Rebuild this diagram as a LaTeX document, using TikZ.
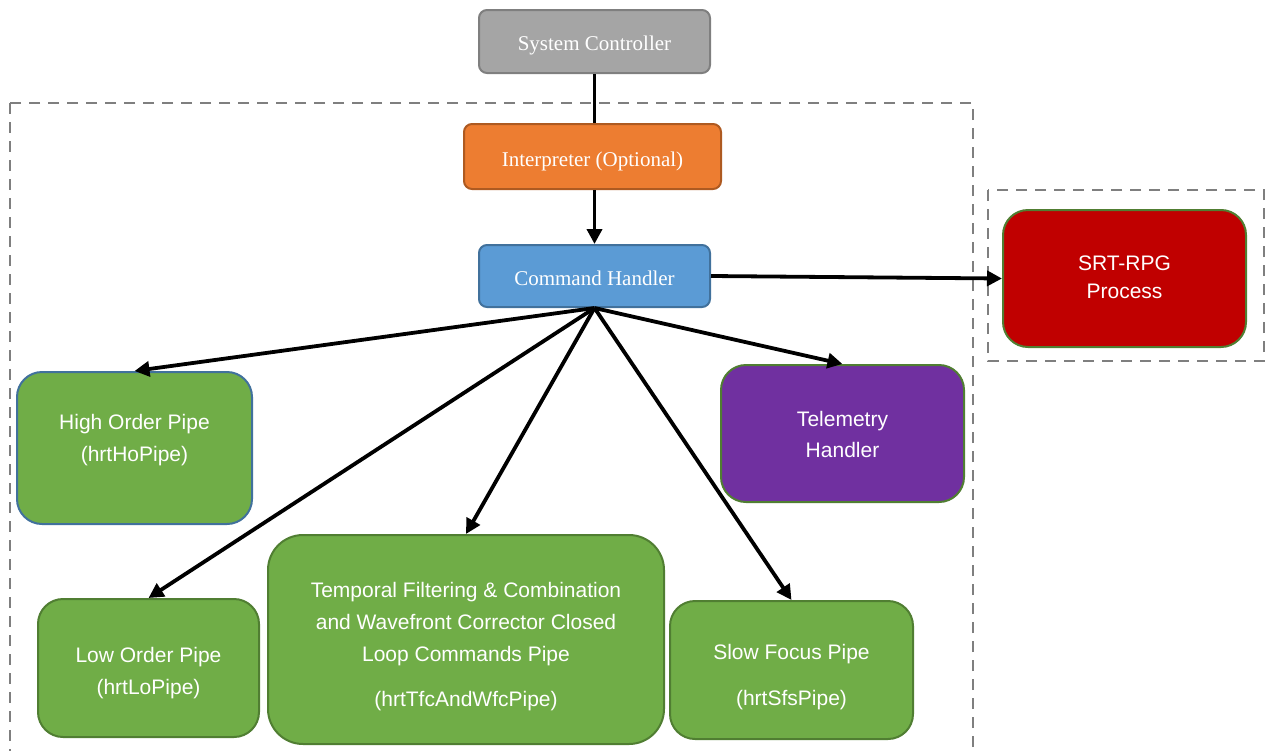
\documentclass[tikz,border=0pt]{standalone}
\usepackage{fontspec}
\setmainfont{Liberation Serif}
\newfontfamily\labelsans{Liberation Sans}
\usetikzlibrary{arrows.meta}

\definecolor{ctrlfill}{HTML}{A5A5A5}
\definecolor{ctrlline}{HTML}{7F7F7F}
\definecolor{orfill}{HTML}{ED7D31}
\definecolor{orline}{HTML}{AE5A21}
\definecolor{blfill}{HTML}{5B9BD5}
\definecolor{blline}{HTML}{41719C}
\definecolor{grfill}{HTML}{70AD47}
\definecolor{grline}{HTML}{507E32}
\definecolor{pufill}{HTML}{7030A0}
\definecolor{rdfill}{HTML}{C00000}
\definecolor{dashgray}{HTML}{7F7F7F}

% text block moved vertically inside its box without changing the box
\newcommand\movedtext[2]{\raisebox{#1}[\height][\depth]{\begin{tabular}{@{}c@{}}#2\end{tabular}}}

\begin{document}
\begin{tikzpicture}[x=1pt,y=-1pt,
  procbox/.style={draw, line width=2pt, text=white, align=center, inner sep=0pt},
  serifbox/.style={procbox, rounded corners=8pt, font=\fontsize{21}{26}\selectfont},
  sansbox/.style={procbox, rounded corners=25pt, font=\labelsans\fontsize{21}{32}\selectfont},
  pipebox/.style={sansbox, fill=grfill, draw=grline},
  region/.style={draw=dashgray, line width=2.4pt, dash pattern=on 11pt off 8pt},
  link/.style={line width=3.8pt, black},
  flow/.style={link, -{Triangle[length=15pt,width=15pt]}}
]
\useasboundingbox (0,0) rectangle (1269,750);

% dashed groupings
\draw[region] (10,103) rectangle (973,770);
\draw[region] (988,190) rectangle (1264,361);

% control chain
\node[serifbox, fill=ctrlfill, draw=ctrlline, minimum width=231pt, minimum height=63pt]
  (sc) at (594.5,41.5) {\movedtext{-4pt}{System Controller}};
\node[serifbox, fill=orfill, draw=orline, minimum width=257pt, minimum height=65pt]
  (interp) at (592.5,156.5) {\movedtext{-5pt}{Interpreter (Optional)}};
\node[serifbox, fill=blfill, draw=blline, minimum width=231pt, minimum height=62pt]
  (cmd) at (594.5,276) {\movedtext{-4pt}{Command Handler}};

% external process
\node[sansbox, fill=rdfill, draw=grline, minimum width=243pt, minimum height=137pt]
  (srt) at (1124.5,278.5) {\movedtext{0pt}{SRT-RPG\\[-4pt]Process}};

% pipes and handlers
\node[sansbox, fill=grfill, draw=blline, minimum width=235pt, minimum height=152pt]
  (ho) at (134.5,448) {\movedtext{9pt}{High Order Pipe\\(hrtHoPipe)}};
\node[sansbox, fill=pufill, draw=grline, minimum width=243pt, minimum height=137pt]
  (tel) at (842.5,433.5) {\movedtext{-2pt}{Telemetry\\[-1pt]Handler}};
\node[pipebox, minimum width=221pt, minimum height=138pt]
  (lo) at (148.5,668) {\movedtext{-4.5pt}{Low Order Pipe\\(hrtLoPipe)}};
\node[pipebox, rounded corners=35pt, minimum width=396pt, minimum height=209pt]
  (tfc) at (466,639.5)
  {\movedtext{-6pt}{Temporal Filtering \& Combination\\and Wavefront Corrector Closed\\Loop Commands Pipe\\[13pt](hrtTfcAndWfcPipe)}};
\node[pipebox, minimum width=243pt, minimum height=138pt]
  (sf) at (791.5,670) {\movedtext{-6pt}{Slow Focus Pipe\\[14pt](hrtSfsPipe)}};

% connectors
\draw[link] (sc.south) -- (sc.south |- interp.north);
\draw[flow] (cmd.north |- interp.south) -- (cmd.north);
\draw[flow] (cmd.east) -- (srt.west);
\draw[flow] (cmd.south) -- (ho.north);
\draw[flow] (cmd.south) -- (lo.north);
\draw[flow] (cmd.south) -- (tfc.north);
\draw[flow] (cmd.south) -- (sf.north);
\draw[flow] (cmd.south) -- (tel.north);
\end{tikzpicture}
\end{document}
